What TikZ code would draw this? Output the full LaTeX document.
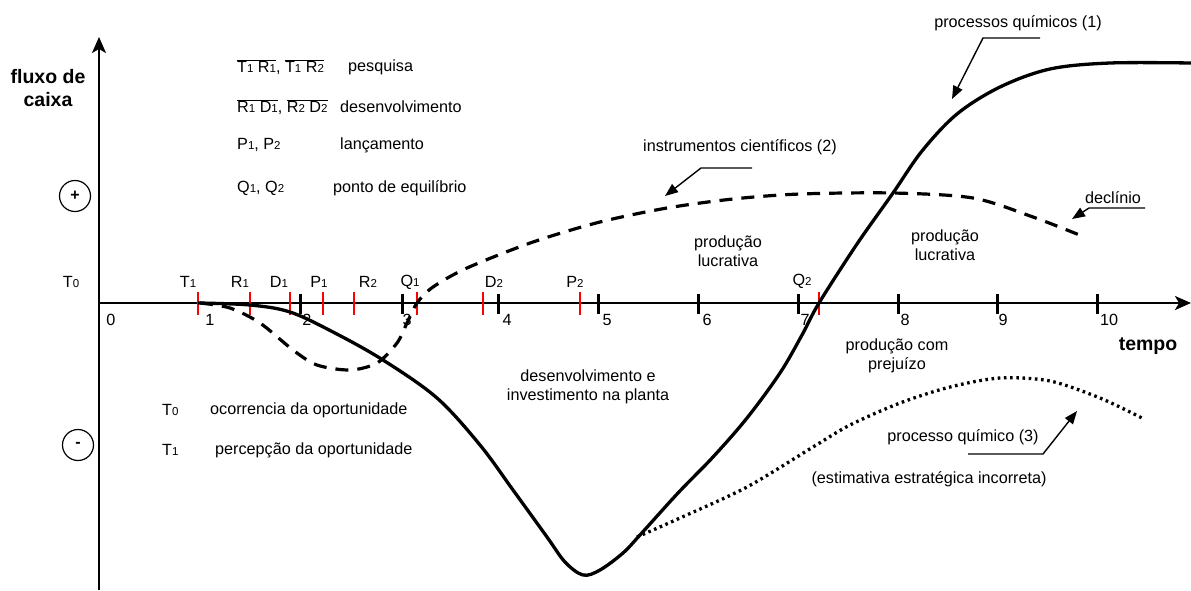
\documentclass[tikz,border=0pt]{standalone}
\usepackage{fontspec}
\setmainfont{Liberation Sans}
\usetikzlibrary{arrows.meta}
% small digit set on the baseline, used as index
\newcommand\sbs[1]{{\fontsize{11.5}{11.5}\selectfont #1}}
% bar over a pair of milestones
\newcommand\ovl[1]{\ensuremath{\overline{\hbox{#1}}}}

\begin{document}
\begin{tikzpicture}[x=1pt,y=-1pt,
  txt/.style={font=\fontsize{16.2}{19.5}\selectfont, inner sep=0pt, align=center},
  boldtxt/.style={font=\fontsize{19.5}{23}\selectfont\bfseries, inner sep=0pt, align=center},
  axis/.style={line width=2.1pt, -{Stealth[length=16pt,width=14pt,inset=4pt]}},
  bigtick/.style={line width=3pt},
  redtick/.style={line width=1.2pt, red},
  curveone/.style={line width=3.3pt, line join=round},
  curvetwo/.style={line width=3.2pt, dash pattern=on 13pt off 9pt},
  curvethree/.style={line width=3.3pt, dash pattern=on 2.6pt off 3.6pt},
  leader/.style={line width=1.4pt, -{Triangle[length=13pt,width=10pt]}},
  sign/.style={circle, draw, line width=1.2pt, minimum size=31pt, inner sep=0pt, font=\fontsize{16}{16}\selectfont\bfseries}
]
\useasboundingbox (0,0) rectangle (1191,590);

% axes
\coordinate (o) at (99,303);
\coordinate (xend) at (1191,303);
\coordinate (ybot) at (99,590);
\coordinate (yend) at (99,37);
\draw[axis] (ybot) -- (yend);
\draw[axis] (o) -- (xend);

% time scale
\foreach \x in {300,402,498,598,698,798,898,997,1097}
  \draw[bigtick] (\x,294) -- (\x,314);
\foreach \x in {198,250,290,323,354,417,483,580,819}
  \draw[redtick] (\x,292) -- (\x,315);

\node[txt] (n0) at (111,320) {0};
\node[txt] (n1) at (210,320) {1};
\node[txt] (n2) at (307,320) {2};
\node[txt] (n3) at (407,320) {3};
\node[txt] (n4) at (507,320) {4};
\node[txt] (n5) at (607,320) {5};
\node[txt] (n6) at (707,320) {6};
\node[txt] (n7) at (805,320) {7};
\node[txt] (n8) at (905,320) {8};
\node[txt] (n9) at (1003,320) {9};
\node[txt] (n10) at (1109,320) {10};

% milestones
\node[txt] (t0) at (71,282) {T\sbs0};
\node[txt] (t1) at (188,282) {T\sbs1};
\node[txt] (r1) at (240,282) {R\sbs1};
\node[txt] (d1) at (279,282) {D\sbs1};
\node[txt] (p1) at (319,282) {P\sbs1};
\node[txt] (r2) at (368,282) {R\sbs2};
\node[txt] (q1) at (410,282) {Q\sbs1};
\node[txt] (d2) at (494,282) {D\sbs2};
\node[txt] (p2) at (575,282) {P\sbs2};
\node[txt] (q2) at (802,281) {Q\sbs2};

% axis titles
\node[boldtxt] (fluxo) at (48,88) {fluxo de\\caixa};
\node[boldtxt] (tempo) at (1148,346) {tempo};

\node[sign] (plus) at (75,196) {+};
\node[sign] (minus) at (78,445) {-};

% legend
\node[txt, anchor=west] (l1a) at (237,67) {\ovl{T\sbs1 R\sbs1}, \ovl{T\sbs1 R\sbs2}};
\node[txt, anchor=west] (l1b) at (348,67) {pesquisa};
\node[txt, anchor=west] (l2a) at (237,107) {\ovl{R\sbs1 D\sbs1}, \ovl{R\sbs2 D\sbs2}};
\node[txt, anchor=west] (l2b) at (340,107) {desenvolvimento};
\node[txt, anchor=west] (l3a) at (237,145) {P\sbs1, P\sbs2};
\node[txt, anchor=west] (l3b) at (340,145) {lançamento};
\node[txt, anchor=west] (l4a) at (237,188) {Q\sbs1, Q\sbs2};
\node[txt, anchor=west] (l4b) at (333,188) {ponto de equilíbrio};
\node[txt, anchor=west] (l5a) at (162,410) {T\sbs0};
\node[txt, anchor=west] (l5b) at (210,410) {ocorrencia da oportunidade};
\node[txt, anchor=west] (l6a) at (162,450) {T\sbs1};
\node[txt, anchor=west] (l6b) at (215,450) {percepção da oportunidade};

% region notes
\node[txt] (lucra1) at (728,251) {produção\\lucrativa};
\node[txt] (lucra2) at (945,245) {produção\\lucrativa};
\node[txt] (prejuizo) at (897,356) {produção com\\prejuízo};
\node[txt] (desenv) at (588,387) {desenvolvimento e\\investimento na planta};

% curve (1): chemical processes
\draw[curveone] plot[smooth, tension=0.55] coordinates {
 (198,303) (250,305) (290,312) (333,332) (383,360) (437,398) (480,445)
 (513,490) (547,537) (565,562) (583,575) (600,570) (623,553) (640,535)
 (678,493) (713,457) (747,418) (780,373) (802,335) (819,303) (857,244)
 (893,193) (922,151) (957,114) (1000,87) (1050,69) (1110,63) (1191,63)};

% curve (2): scientific instruments
\draw[curvetwo] plot[smooth, tension=0.5] coordinates {
 (200,303) (230,308) (260,323) (293,350) (317,365) (350,370) (377,363)
 (397,343) (407,323) (417,303) (433,287) (467,268) (533,242) (600,222)
 (667,208) (733,199) (800,194) (893,193) (973,198) (1033,217) (1082,236)};

% curve (3): chemical process, wrong strategy
\draw[curvethree] plot[smooth, tension=0.5] coordinates {
 (637,537) (680,518) (747,487) (813,447) (850,425) (900,403) (950,387)
 (1000,378) (1050,381) (1100,398) (1142,418)};

% labels with leaders
\node[txt] (lab1) at (1018,23) {processos químicos (1)};
\coordinate (a1s) at (1040,38);
\coordinate (a1k) at (983,38);
\coordinate (a1e) at (952,99);
\draw[leader] (a1s) -- (a1k) -- (a1e);

\node[txt] (lab2) at (740,147) {instrumentos científicos (2)};
\coordinate (a2s) at (752,168);
\coordinate (a2k) at (701,168);
\coordinate (a2e) at (665,196);
\draw[leader] (a2s) -- (a2k) -- (a2e);

\node[txt] (lab4) at (1113,198) {declínio};
\coordinate (a4s) at (1145,208);
\coordinate (a4k) at (1089,208);
\coordinate (a4e) at (1072,219);
\draw[leader] (a4s) -- (a4k) -- (a4e);

\node[txt] (lab3) at (963,437) {processo químico (3)};
\coordinate (a3s) at (968,454);
\coordinate (a3k) at (1043,454);
\coordinate (a3e) at (1077,411);
\draw[leader] (a3s) -- (a3k) -- (a3e);

\node[txt] (lab3b) at (929,479) {(estimativa estratégica incorreta)};
\end{tikzpicture}
\end{document}
